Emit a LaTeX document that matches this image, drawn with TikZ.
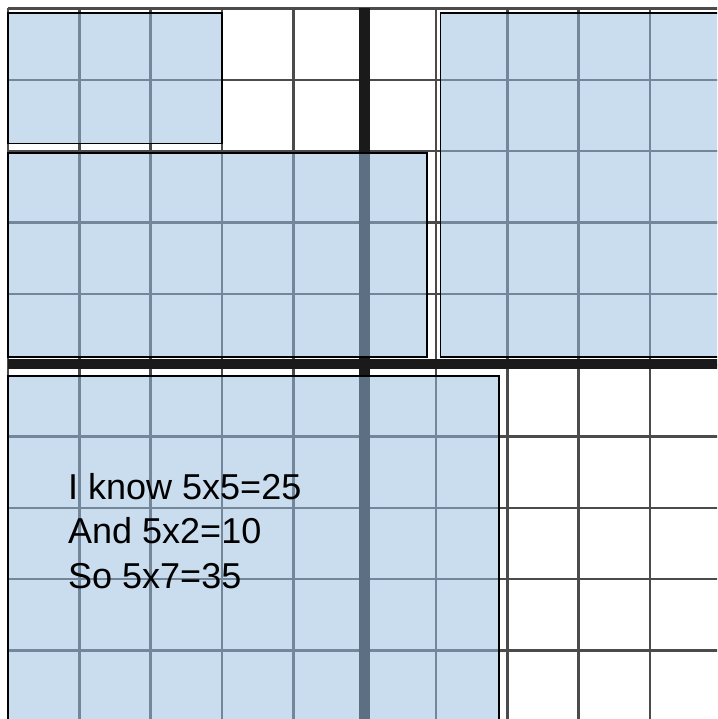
\documentclass[tikz,border=0pt]{standalone}
\usepackage{fontspec}
\setmainfont{Liberation Sans}
\definecolor{gridgray}{RGB}{75,75,75}
\definecolor{thickline}{RGB}{26,26,26}
\definecolor{paleblue}{RGB}{155,190,226}
\begin{document}
\begin{tikzpicture}[x=1pt,y=-1pt,
  gridline/.style={draw=gridgray,line width=2.6pt},
  axisline/.style={draw=thickline,line width=10.5pt},
  block/.style={fill=paleblue,fill opacity=0.52,draw=black,line width=1.8pt,draw opacity=1},
  note/.style={anchor=base west,inner sep=0pt,font=\fontsize{36}{44}\selectfont,text=black}]
\useasboundingbox (0,0) rectangle (717,719);
\clip (0,0) rectangle (717,719);
\fill[white] (0,0) rectangle (717,719);
% thin grid
\foreach \i in {0,...,10}{
  \draw[gridline] ({8+71.33*\i},8.5) -- ({8+71.33*\i},730);
  \draw[gridline] (8,{8.5+71.33*\i}) -- (730,{8.5+71.33*\i});
}
% thick axes
\coordinate (vt) at (364.7,8.5);
\coordinate (vb) at (364.7,730);
\coordinate (hl) at (8,364.2);
\coordinate (hr) at (730,364.2);
\draw[axisline] (vt) -- (vb);
\draw[axisline] (hl) -- (hr);
% blocks
\draw[block] (8,12.7) rectangle (221.7,143.5);
\draw[block] (8,153.3) rectangle (426.7,356.7);
\draw[block] (440.5,12.7) rectangle (740,356.7);
\draw[block] (8,376) rectangle (499,740);
% text
\node[note] (t1) at (68,499) {I know 5x5=25};
\node[note] (t2) at (68,543.5) {And 5x2=10};
\node[note] (t3) at (68,588) {So 5x7=35};
\end{tikzpicture}
\end{document}
